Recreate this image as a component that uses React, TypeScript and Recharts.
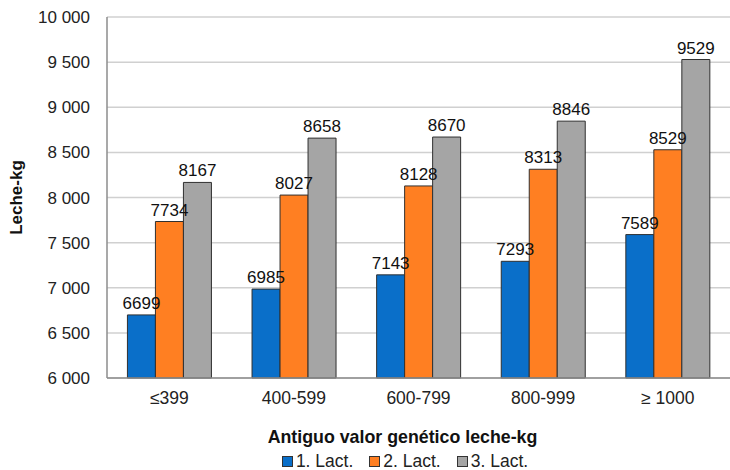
import React from 'react';
import { BarChart, Bar, XAxis, YAxis, CartesianGrid, Legend, LabelList } from 'recharts';

const categories = ['≤399', '400-599', '600-799', '800-999', '≥ 1000'];
const lact1 = [6699, 6985, 7143, 7293, 7589];
const lact2 = [7734, 8027, 8128, 8313, 8529];
const lact3 = [8167, 8658, 8670, 8846, 9529];
const yTicks = [6000, 6500, 7000, 7500, 8000, 8500, 9000, 9500, 10000];

const data = categories.map((c, i) => ({ cat: c, l1: lact1[i], l2: lact2[i], l3: lact3[i] }));

const fmt = (v: number) => {
  const s = String(v);
  return s.length > 3 ? s.slice(0, s.length - 3) + ' ' + s.slice(s.length - 3) : s;
};

const font = 'Liberation Sans, Arial, sans-serif';
const valueStyle = { fontSize: 17, fill: '#111', fontFamily: font };

const LegendContent = (props: any) => {
  const items = props.payload || [];
  return (
    <div style={{ display: 'flex', justifyContent: 'center', alignItems: 'center', paddingLeft: 80, fontFamily: font, fontSize: 17.5, color: '#222', lineHeight: '20px' }}>
      {items.map((it: any, i: number) => (
        <div key={i} style={{ display: 'flex', alignItems: 'center', marginRight: i < items.length - 1 ? 16 : 0 }}>
          <span style={{ display: 'inline-block', width: 9, height: 9, background: it.color, border: '1px solid #333', marginRight: 3 }} />
          <span>{it.value}</span>
        </div>
      ))}
    </div>
  );
};

export default function App() {
  return (
    <div style={{ position: 'absolute', left: 0, top: 0, width: 730, height: 470, background: '#fff', fontFamily: font }}>
      <BarChart
        width={730}
        height={470}
        data={data}
        margin={{ top: 17, right: 0, bottom: 0, left: 0 }}
        barCategoryGap="16.4%"
        barGap={0}
      >
        <CartesianGrid vertical={false} stroke="#d0d0d0" strokeWidth={1.5} />
        <XAxis
          dataKey="cat"
          tickLine={false}
          axisLine={{ stroke: '#8c8c8c', strokeWidth: 1.5 }}
          tick={{ fontSize: 17.5, fill: '#222', fontFamily: font }}
          tickMargin={8}
          height={68}
          label={{ value: 'Antiguo valor genético leche-kg', position: 'insideBottom', offset: 3, dx: -16, fontSize: 17.8, fontWeight: 'bold', fill: '#111', fontFamily: font }}
        />
        <YAxis
          domain={[6000, 10000]}
          ticks={yTicks}
          interval={0}
          tickFormatter={fmt}
          width={107}
          tickLine={false}
          axisLine={{ stroke: '#8c8c8c', strokeWidth: 1.5 }}
          tick={{ fontSize: 17, fill: '#222', fontFamily: font }}
          tickMargin={11}
          label={{ value: 'Leche-kg', angle: -90, position: 'insideLeft', offset: 16, fontSize: 17, fontWeight: 'bold', fill: '#111', fontFamily: font, style: { textAnchor: 'middle' } }}
        />
        <Legend
          verticalAlign="bottom"
          align="center"
          height={24}
          content={LegendContent}
          wrapperStyle={{ bottom: -5 }}
        />
        <Bar dataKey="l1" name="1. Lact." fill="#0a6fc9" stroke="#303030" strokeWidth={1} isAnimationActive={false}>
          <LabelList dataKey="l1" position="top" offset={6} style={valueStyle} />
        </Bar>
        <Bar dataKey="l2" name="2. Lact." fill="#ff7f22" stroke="#303030" strokeWidth={1} isAnimationActive={false}>
          <LabelList dataKey="l2" position="top" offset={6} style={valueStyle} />
        </Bar>
        <Bar dataKey="l3" name="3. Lact." fill="#a5a5a5" stroke="#303030" strokeWidth={1} isAnimationActive={false}>
          <LabelList dataKey="l3" position="top" offset={6} style={valueStyle} />
        </Bar>
      </BarChart>
    </div>
  );
}
